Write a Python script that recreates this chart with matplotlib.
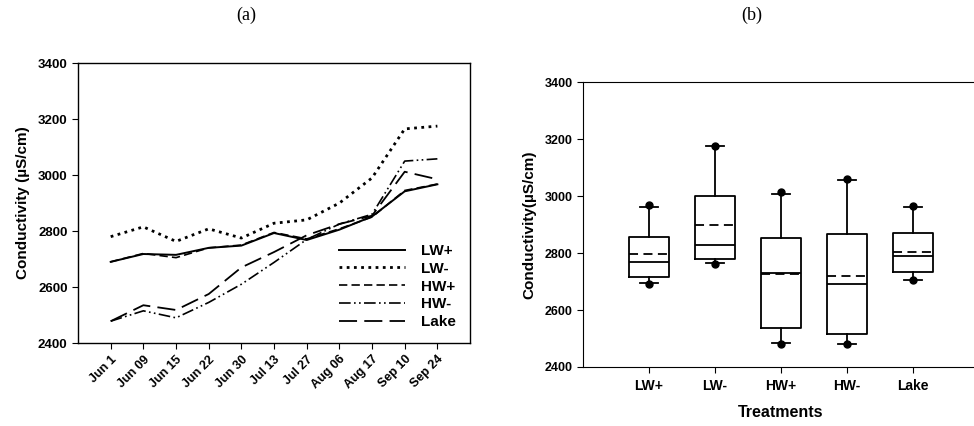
import matplotlib
matplotlib.use('Agg')
import matplotlib.pyplot as plt

plt.rcParams['font.family'] = ['Liberation Sans', 'DejaVu Sans']
plt.rcParams['font.weight'] = 'bold'

# sampling dates (panel a)
dates = ['Jun 1', 'Jun 09', 'Jun 15', 'Jun 22', 'Jun 30', 'Jul 13', 'Jul 27',
         'Aug 06', 'Aug 17', 'Sep 10', 'Sep 24']

lw_plus = [2690, 2718, 2715, 2740, 2748, 2793, 2768, 2805, 2852, 2942, 2967]
lw_minus = [2780, 2815, 2763, 2808, 2775, 2828, 2840, 2900, 2990, 3165, 3175]
hw_plus = [2690, 2720, 2705, 2740, 2750, 2795, 2772, 2808, 2850, 2945, 2968]
hw_minus = [2478, 2515, 2490, 2545, 2610, 2688, 2770, 2825, 2860, 3050, 3058]
lake = [2478, 2535, 2518, 2575, 2670, 2725, 2785, 2825, 2855, 3012, 2985]

# box plot summaries (panel b)
treatments = ['LW+', 'LW-', 'HW+', 'HW-', 'Lake']
q1 = [2716, 2779, 2536, 2515, 2735]
medians = [2767, 2829, 2730, 2690, 2790]
q3 = [2856, 3000, 2853, 2867, 2871]
means = [2795, 2897, 2726, 2718, 2804]
whis_lo = [2695, 2765, 2484, 2480, 2704]
whis_hi = [2963, 3174, 3008, 3057, 2961]
pt_lo = [2690, 2763, 2480, 2480, 2705]
pt_hi = [2968, 3177, 3013, 3060, 2965]

fig = plt.figure(figsize=(9.74, 4.26), dpi=100)

# ---- panel (a): time series
ax1 = fig.add_axes([0.0801, 0.1948, 0.4025, 0.657])
x = list(range(len(dates)))
ax1.plot(x, lw_plus, color='black', lw=1.4, ls='-', label='LW+')
ax1.plot(x, lw_minus, color='black', lw=2.0, ls=(0, (1, 1.6)), label='LW-')
ax1.plot(x, hw_plus, color='black', lw=1.2, ls=(0, (5, 2.5)), label='HW+')
ax1.plot(x, hw_minus, color='black', lw=1.2, ls=(0, (7, 2, 1, 2, 1, 2)), label='HW-')
ax1.plot(x, lake, color='black', lw=1.3, ls=(0, (10, 4)), label='Lake')
ax1.set_xlim(-1, 11)
ax1.set_ylim(2400, 3400)
ax1.set_yticks(range(2400, 3401, 200))
ax1.set_xticks(x)
ax1.set_xticklabels(dates, rotation=45, ha='right', rotation_mode='anchor')
ax1.tick_params(direction='out', length=4, labelsize=9.5)
ax1.tick_params(axis='x', labelsize=9)
ax1.set_ylabel('Conductivity (µS/cm)', fontsize=11, fontweight='bold', labelpad=6)
ax1.legend(loc='lower right', bbox_to_anchor=(1.0, 0.0), frameon=False, fontsize=11,
           handlelength=4.3, labelspacing=0.25, handletextpad=1.1)
for s in ax1.spines.values():
    s.set_linewidth(1.0)
fig.text(0.253, 0.963, '(a)', family='Liberation Serif', fontweight='normal',
         fontsize=13, ha='center', va='center')

# ---- panel (b): box plots
ax2 = fig.add_axes([0.5986, 0.1385, 0.4066, 0.669])
stats = []
for i in range(len(treatments)):
    stats.append({'label': treatments[i], 'q1': q1[i], 'med': medians[i], 'q3': q3[i],
                  'mean': means[i], 'whislo': whis_lo[i], 'whishi': whis_hi[i],
                  'fliers': [pt_lo[i], pt_hi[i]]})
ax2.bxp(stats, positions=range(1, 6), widths=0.6, capwidths=0.28,
        showmeans=True, meanline=True,
        boxprops=dict(color='black', lw=1.3),
        whiskerprops=dict(color='black', lw=1.3),
        capprops=dict(color='black', lw=1.3),
        medianprops=dict(color='black', lw=1.3),
        meanprops=dict(color='black', lw=1.3, ls=(0, (5, 3))),
        flierprops=dict(marker='o', markerfacecolor='black', markeredgecolor='black',
                        markersize=5))
ax2.set_xlim(0, 6)
ax2.set_ylim(2400, 3400)
ax2.set_yticks(range(2400, 3401, 200))
ax2.tick_params(direction='out', length=4, labelsize=9)
ax2.tick_params(axis='x', pad=5, labelsize=10)
ax2.set_ylabel('Conductivity(µS/cm)', fontsize=11, fontweight='bold', labelpad=6)
ax2.set_xlabel('Treatments', fontsize=11.5, fontweight='bold', labelpad=8)
fig.text(0.772, 0.963, '(b)', family='Liberation Serif', fontweight='normal',
         fontsize=13, ha='center', va='center')

fig.savefig('out.png', dpi=100)
